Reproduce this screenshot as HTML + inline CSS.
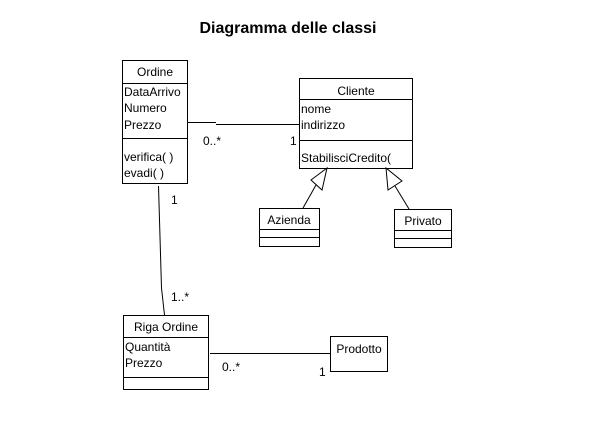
<!DOCTYPE html>
<html><head><style>body{margin:0;background:#fff}svg text{font-family:"Liberation Sans",sans-serif;font-size:12px;fill:#000}</style></head>
<body>
<svg width="606" height="423" xmlns="http://www.w3.org/2000/svg">
<rect width="606" height="423" fill="#fff"/>
<text x="288" y="33" text-anchor="middle" style="font-size:16px;font-weight:bold">Diagramma delle classi</text>
<g fill="none" stroke="#000" stroke-width="1" shape-rendering="crispEdges">
<rect x="122.5" y="60.5" width="65" height="123"/>
<line x1="122" y1="83.5" x2="188" y2="83.5"/>
<line x1="122" y1="138.5" x2="188" y2="138.5"/>
<rect x="299.5" y="78.5" width="113" height="90"/>
<line x1="299" y1="99.5" x2="413" y2="99.5"/>
<line x1="299" y1="140.5" x2="413" y2="140.5"/>
<rect x="259.5" y="208.5" width="60" height="38"/>
<line x1="259" y1="229.5" x2="320" y2="229.5"/>
<line x1="259" y1="237.5" x2="320" y2="237.5"/>
<rect x="394.5" y="209.5" width="57" height="38"/>
<line x1="394" y1="230.5" x2="452" y2="230.5"/>
<line x1="394" y1="238.5" x2="452" y2="238.5"/>
<rect x="123.5" y="315.5" width="85" height="74"/>
<line x1="123" y1="337.5" x2="209" y2="337.5"/>
<line x1="123" y1="377.5" x2="209" y2="377.5"/>
<rect x="330.5" y="336.5" width="57" height="35"/>
<line x1="188" y1="122.5" x2="216" y2="122.5"/>
<line x1="216" y1="124.5" x2="299" y2="124.5"/>
<line x1="210" y1="353.5" x2="330" y2="353.5"/>
</g>
<g fill="none" stroke="#000" stroke-width="1">
<polyline points="158.5,186 161.5,288 164.5,315"/>
<polygon points="327,168 311,180 322,190" fill="#fff"/>
<line x1="316" y1="185" x2="303" y2="208"/>
<polygon points="386,168 388,190 402,181" fill="#fff"/>
<line x1="395" y1="186" x2="409" y2="209"/>
</g>
<text x="155" y="76" text-anchor="middle">Ordine</text>
<text x="124" y="96">DataArrivo</text>
<text x="124" y="112">Numero</text>
<text x="124" y="129">Prezzo</text>
<text x="124" y="161">verifica( )</text>
<text x="124" y="177">evadi( )</text>
<text x="356" y="95" text-anchor="middle">Cliente</text>
<text x="301" y="113">nome</text>
<text x="301" y="129">indirizzo</text>
<text x="301" y="162">StabilisciCredito(</text>
<text x="289" y="224" text-anchor="middle">Azienda</text>
<text x="423" y="225" text-anchor="middle">Privato</text>
<text x="166" y="331" text-anchor="middle">Riga Ordine</text>
<text x="125" y="351">Quantità</text>
<text x="125" y="367">Prezzo</text>
<text x="359" y="353" text-anchor="middle">Prodotto</text>
<text x="203" y="145">0..*</text>
<text x="290" y="145">1</text>
<text x="171" y="204">1</text>
<text x="171" y="301">1..*</text>
<text x="222" y="371">0..*</text>
<text x="319" y="376">1</text>
</svg>
</body></html>
